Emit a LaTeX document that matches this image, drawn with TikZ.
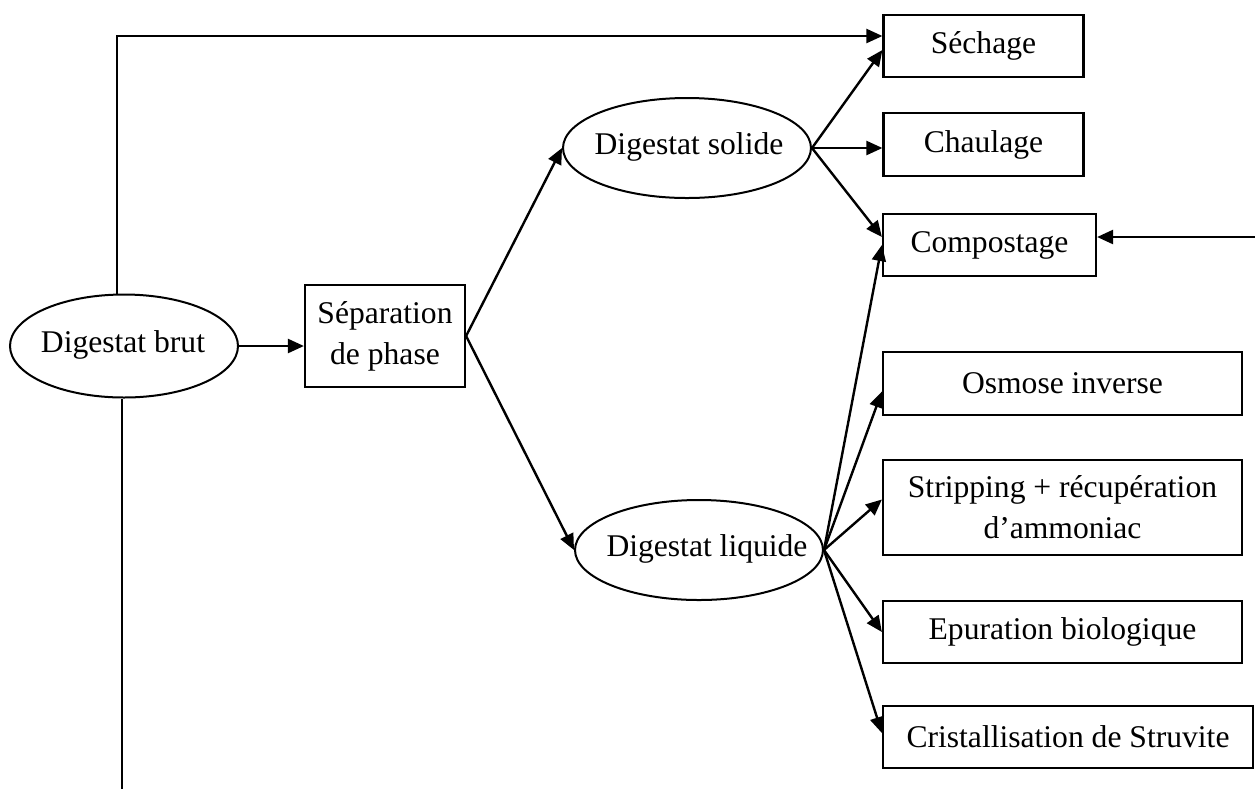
\documentclass[tikz,border=0pt]{standalone}
\usepackage{fontspec}
\setmainfont{Liberation Serif}
\usetikzlibrary{shapes.geometric,arrows.meta}
\begin{document}
\begin{tikzpicture}[x=0.5pt,y=-0.5pt,
  every node/.style={font=\fontsize{15.8}{20.5}\selectfont, inner sep=0pt, align=center},
  boxnode/.style={draw, line width=1.1pt, rectangle},
  ellnode/.style={draw, line width=1pt, ellipse},
  conn/.style={line width=1.2pt},
  arr/.style={conn, -{Triangle[length=8pt,width=7pt]}}]
\useasboundingbox (0,0) rectangle (1255,789);
% nodes
\node[ellnode, minimum width=114pt, minimum height=51.5pt] (brut) at (124,346) {};
\node (brutt) at (123,345) {Digestat brut};
\node[boxnode, minimum width=80pt, minimum height=51pt] (sep) at (385,336) {Séparation\\de phase};
\node[ellnode, minimum width=124pt, minimum height=50pt] (sol) at (687,148) {};
\node (solt) at (689,147) {Digestat solide};
\node[ellnode, minimum width=124pt, minimum height=50pt] (liq) at (699,550) {};
\node (liqt) at (707,549) {Digestat liquide};
\node[boxnode, minimum width=100pt, minimum height=31pt] (sech) at (983.5,46) {Séchage};
\node[boxnode, minimum width=100pt, minimum height=31.5pt] (chaul) at (983.5,144.5) {Chaulage};
\node[boxnode, minimum width=106.5pt, minimum height=31pt] (comp) at (989.5,245) {Compostage};
\node[boxnode, minimum width=179.5pt, minimum height=31.5pt] (osm) at (1062.5,383.5) {Osmose inverse};
\node[boxnode, minimum width=179.5pt, minimum height=47.5pt] (strip) at (1062.5,507.5) {Stripping + récupération\\d’ammoniac};
\node[boxnode, minimum width=179.5pt, minimum height=31pt] (epur) at (1062.5,632) {Epuration biologique};
\node[boxnode, minimum width=185pt, minimum height=31pt] (crist) at (1068,737) {Cristallisation de Struvite};
\coordinate (bot) at (122,789);
\coordinate (rgt) at (1255,237);
% connectors
\draw[arr] ([xshift=-3.5pt]brut.north) |- ([yshift=5pt]sech.west);
\draw[conn] ([xshift=-1pt]brut.south) -- (bot);
\draw[arr] (brut.east) -- (brut.east -| sep.west);
\draw[arr] (sep.east) -- (sol.west);
\draw[arr] (sep.east) -- (liq.west);
\draw[arr] (sol.east) -- ([yshift=-2pt]sech.west);
\draw[arr] (sol.east) -- (sol.east -| chaul.west);
\draw[arr] (sol.east) -- ([yshift=4pt]comp.west);
\draw[arr] (rgt) -- ([yshift=4pt]comp.east);
\draw[arr] (liq.east) -- (comp.west);
\draw[arr] (liq.east) -- ([yshift=-4pt]osm.west);
\draw[arr] (liq.east) -- ([yshift=4pt]strip.west);
\draw[arr] (liq.east) -- (epur.west);
\draw[arr] (liq.east) -- ([yshift=2pt]crist.west);
\end{tikzpicture}
\end{document}
